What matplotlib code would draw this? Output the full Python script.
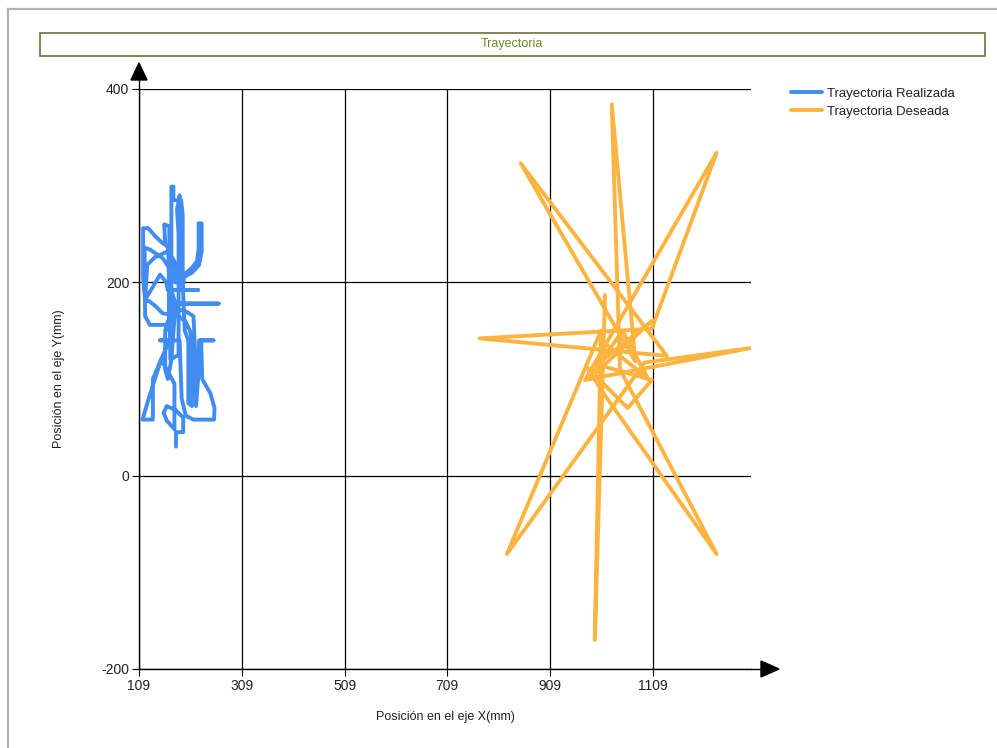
import matplotlib
matplotlib.use("Agg")
import matplotlib.pyplot as plt
from matplotlib.patches import Rectangle, Polygon
from matplotlib.lines import Line2D

plt.rcParams["axes.unicode_minus"] = False

# ---- data ----
title = "Trayectoria"
x_label = "Posición en el eje X(mm)"
y_label = "Posición en el eje Y(mm)"
x_ticks = [109, 309, 509, 709, 909, 1109]
y_ticks = [-200, 0, 200, 400]
series_names = ["Trayectoria Realizada", "Trayectoria Deseada"]

# executed trajectory (mm)
real_x = [181, 181, 195, 195, 180, 163, 157, 163, 178, 178, 168, 152, 140, 128, 118, 116,
          136, 136, 148, 160, 168, 150, 188, 190, 192, 200, 215, 255, 256, 248, 232, 230,
          254, 226, 224, 220, 218, 215, 200, 185, 175, 165, 160, 160, 165, 172, 180, 264,
          180, 172, 224, 165, 162, 150, 121, 117, 117, 127, 140, 156, 165, 168, 170, 172,
          172, 176, 176, 191, 194, 194, 197, 212, 222, 225, 225, 231, 231, 226, 212, 195,
          180, 168, 155, 130, 120, 120, 121, 130, 160, 168, 168, 158, 160, 166, 170,
          186, 186, 183, 188, 190, 198, 205, 205, 212, 212, 208, 199, 185, 155, 142, 130,
          121, 125, 140, 165, 178, 182]
real_y = [30, 45, 45, 60, 68, 72, 65, 57, 48, 95, 105, 120, 100, 80, 62, 58,
          58, 100, 115, 130, 140, 140, 140, 110, 80, 62, 58, 58, 70, 85, 100, 140,
          140, 140, 100, 72, 130, 165, 170, 172, 165, 160, 150, 110, 100, 120, 178, 178,
          178, 192, 192, 192, 200, 208, 182, 205, 256, 256, 248, 240, 238, 225, 200, 160,
          299, 299, 285, 285, 270, 195, 208, 215, 222, 235, 261, 261, 232, 218, 210, 205,
          200, 215, 225, 234, 236, 200, 165, 156, 156, 150, 258, 260, 240, 235, 120,
          125, 250, 275, 290, 250, 150, 140, 75, 72, 140, 150, 160, 165, 168, 175, 180,
          182, 218, 226, 232, 222, 200]

# desired trajectory (mm)
desired_x = [1016, 996, 1008, 825, 1093, 1299, 977, 1233, 1107, 772, 1136, 852,
             1075, 1029, 1045, 1233, 1012, 981, 1060, 1107, 1000, 1107, 985, 1050,
             1100, 1020]
desired_y = [187, -170, 150, -81, 117, 132, 99, 334, 152, 142, 124, 323,
             118, 384, 110, -81, 86, 112, 70, 99, 115, 160, 100, 150,
             100, 135]

BLUE = "#418CF0"
ORANGE = "#FCB441"

W, H = 997, 748
fig = plt.figure(figsize=(W / 100, H / 100), dpi=100)
fig.patch.set_facecolor("white")

def fx(px):
    return px / W

def fy(py):
    return 1 - py / H

# frame lines along top and left
fig.add_artist(Line2D([fx(8), fx(997)], [fy(9), fy(9)], color="#b4b4b4", lw=1.6))
fig.add_artist(Line2D([fx(8), fx(8)], [fy(9), fy(748)], color="#b4b4b4", lw=1.6))

# title box
fig.add_artist(Rectangle((fx(40), fy(56)), fx(985) - fx(40), fy(33) - fy(56),
                         transform=fig.transFigure, fill=False,
                         edgecolor="#6e6e3c", lw=1.2))
fig.text(fx(512), fy(44.5), title, ha="center", va="center",
         color="#6B8E23", fontsize=9, family="Liberation Sans")

L, R, T, B = 139, 751, 89, 669
ax = fig.add_axes([fx(L), fy(B), fx(R) - fx(L), fy(T) - fy(B)])
ax.set_xlim(109, 1300)
ax.set_ylim(-200, 400)
for s in ["top", "right"]:
    ax.spines[s].set_visible(False)
for s in ["left", "bottom"]:
    ax.spines[s].set_color("black")
    ax.spines[s].set_linewidth(1.0)

ax.set_xticks(x_ticks)
ax.set_yticks(y_ticks)
ax.tick_params(axis="both", direction="out", length=5, width=0.8,
               colors="black", labelsize=10, labelcolor="#222222", pad=2)
for lbl in ax.get_xticklabels() + ax.get_yticklabels():
    lbl.set_family("Liberation Sans")
ax.grid(True, color="black", lw=0.9)
ax.set_axisbelow(True)

ax.plot(real_x, real_y, color=BLUE, lw=2.8, solid_joinstyle="round",
        solid_capstyle="round", label=series_names[0], zorder=3)
ax.plot(desired_x, desired_y, color=ORANGE, lw=2.8, solid_joinstyle="round",
        solid_capstyle="round", label=series_names[1], zorder=3)

ax.set_xlabel(x_label, fontsize=9, family="Liberation Sans", color="#222222", labelpad=13)
ax.set_ylabel(y_label, fontsize=9, family="Liberation Sans", color="#222222", labelpad=26)

# axis extensions with arrow heads
fig.add_artist(Line2D([fx(L), fx(L)], [fy(T), fy(78)], color="black", lw=1.0))
fig.add_artist(Polygon([[fx(139), fy(63)], [fx(131), fy(80)], [fx(147), fy(80)]],
                       closed=True, color="black", transform=fig.transFigure))
fig.add_artist(Line2D([fx(R), fx(762)], [fy(B), fy(B)], color="black", lw=1.0))
fig.add_artist(Polygon([[fx(779), fy(669)], [fx(761), fy(661)], [fx(761), fy(677)]],
                       closed=True, color="black", transform=fig.transFigure))

leg = fig.legend(loc="upper left", bbox_to_anchor=(fx(786), fy(82)), frameon=False,
                 handlelength=2.3, handletextpad=0.4, labelspacing=0.45,
                 borderaxespad=0, prop={"family": "Liberation Sans", "size": 9.5})
for t in leg.get_texts():
    t.set_color("#222222")

fig.savefig("out.png", dpi=100)
